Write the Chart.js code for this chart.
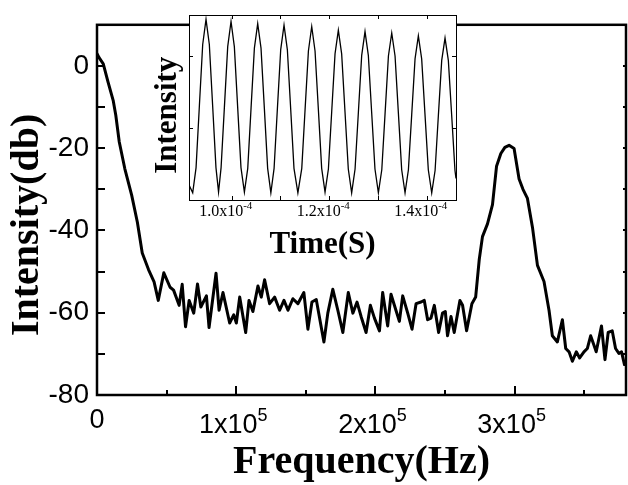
<!DOCTYPE html>
<html><head><meta charset="utf-8">
<script src="https://cdn.jsdelivr.net/npm/chart.js@4/dist/chart.umd.min.js"></script>
<style>
html,body{margin:0;padding:0;background:#fff;}
#wrap{position:relative;width:628px;height:485px;overflow:hidden;}
canvas{position:absolute;left:0;top:0;}
</style></head><body>
<div id="wrap"><canvas id="main" width="628" height="485"></canvas><canvas id="inset" width="628" height="485"></canvas></div>
<script>
// ---- main spectrum ----
const freqKHz = [0, 1.5, 4.5, 8, 11.7, 13.5, 16, 20, 24.9, 29,
  32.5, 37, 41, 44, 48, 52.5, 55, 59, 61.2, 63.6,
  66.2, 69.5, 72.2, 74.6, 78.6, 80.5, 85.5, 87.7, 90.5, 95.3,
  98.2, 100.1, 102.5, 106.8, 109.2, 112, 115.6, 118, 120.4, 124,
  127.6, 131.2, 134.3, 137.2, 140.7, 144.3, 148.6, 151.5, 154.4, 157.5,
  163, 165.8, 169.4, 173, 176.6, 180.5, 183.8, 186.8, 189.7, 193.3,
  196.4, 199.3, 202.9, 205.2, 208.8, 211.2, 212.9, 217.2, 219.6, 223.2,
  226.3, 229.2, 232.8, 235.1, 237.5, 239.9, 242.3, 245.4, 248.2, 250.2,
  251.8, 254.3, 256.6, 260.7, 262.6, 265.5, 269.3, 272, 274.6, 276.9,
  280.5, 284.1, 287, 290.1, 293, 296, 299.6, 303.2, 306, 309.2,
  312.8, 316.4, 321.1, 324.7, 327.1, 330.7, 334.3, 336.7, 339.1, 341.5,
  344.3, 346.7, 349.8, 352.2, 354.6, 357, 358.6, 362.4, 364.9, 367.2,
  370.1, 372.5, 374.9, 376.8, 378.9];
const intensityDb = [3, 2, 0.5, -4, -8.5, -12, -18.5, -25, -31.4, -38,
  -45.5, -49.5, -52.5, -57, -50.3, -53.8, -54.5, -58.2, -53.1, -63.4,
  -57, -60.1, -53, -58.6, -55.9, -63.6, -50.4, -59.4, -55.1, -62.5,
  -60.5, -62.5, -56.2, -64.8, -57, -59.7, -53.5, -56.2, -52, -57.8,
  -56.2, -59.4, -57, -59.4, -56.6, -57.8, -55.1, -64, -57.4, -56.8,
  -67.1, -60.1, -54.3, -59.4, -64.8, -55.1, -60.1, -57.4, -60.9, -64.8,
  -58.2, -61.3, -64.4, -55.1, -63.2, -55.5, -57.4, -62.1, -55.9, -60.1,
  -64, -57.8, -57.4, -57, -61.7, -61.3, -58.2, -64.8, -60.1, -59.7,
  -65.6, -60.9, -64.8, -57, -58.2, -64.4, -57.8, -56.2, -47, -41.5,
  -38.4, -33.7, -24.4, -21.3, -19.8, -19.3, -20.1, -27.5, -30, -32.2,
  -39.2, -48.5, -52.4, -59.4, -65.6, -67.1, -61.7, -68.7, -69.5, -71.8,
  -69.5, -71, -69.5, -68.7, -65.6, -67.9, -69.5, -63.2, -71.4, -64.8,
  -64.4, -68.7, -69.9, -69.5, -72.6];

const mainYLabels = [0, -20, -40, -60, -80];
const mainYTickMarks = [10, 0, -10, -20, -30, -40, -50, -60, -70, -80];
const mainXLabelValues = [0, 100000, 200000, 300000];
const mainXLabelText = ['0', '1x10', '2x10', '3x10'];
const mainXLabelExp = ['', '5', '5', '5'];
const mainXMajorTicks = [100000, 200000, 300000];
const mainXMinorTicks = [50000, 150000, 250000, 350000];

// ---- inset time trace (time in microseconds) ----
const insetTimeUs = [91.3, 92.0, 92.69, 93.37, 94.05, 94.73, 95.41, 96.09, 96.77,
  97.3, 97.82, 98.5, 99.18, 99.86, 100.54, 101.22, 101.9,
  102.6, 103.29, 103.97, 104.65, 105.33, 106.01, 106.69, 107.37,
  108.03, 108.69, 109.37, 110.05, 110.73, 111.41, 112.09, 112.77,
  113.57, 114.37, 115.05, 115.73, 116.41, 117.09, 117.77, 118.45,
  119.14, 119.83, 120.51, 121.19, 121.87, 122.55, 123.23, 123.91,
  124.6, 125.3, 125.98, 126.66, 127.34, 128.02, 128.7, 129.38,
  130.08, 130.78, 131.46, 132.14, 132.82, 133.5, 134.18, 134.86,
  135.55, 136.24, 136.92, 137.6, 138.28, 138.96, 139.64, 140.32,
  141.02, 141.71, 142.39, 143.07, 143.75, 144.43, 145.11, 145.79, 146.0];
const insetIntensity = [0.2, 0.1, 0.45, 1.31, 2.16, 2.51, 2.16, 1.31, 0.45,
  0.11, 0.45, 1.29, 2.13, 2.48, 2.13, 1.29, 0.45,
  0.11, 0.44, 1.28, 2.11, 2.45, 2.11, 1.28, 0.44,
  0.1, 0.44, 1.27, 2.09, 2.43, 2.09, 1.27, 0.44,
  0.1, 0.44, 1.26, 2.07, 2.41, 2.07, 1.26, 0.44,
  0.11, 0.43, 1.23, 2.03, 2.36, 2.03, 1.23, 0.43,
  0.1, 0.43, 1.22, 2.01, 2.34, 2.01, 1.22, 0.43,
  0.1, 0.42, 1.21, 2.0, 2.32, 2.0, 1.21, 0.42,
  0.1, 0.42, 1.19, 1.96, 2.28, 1.96, 1.19, 0.42,
  0.1, 0.41, 1.18, 1.94, 2.25, 1.94, 1.18, 0.41, 0.3];
const insetXTickMarks = [100, 110, 120, 130, 140];
const insetXLabelValues = [100, 120, 140];
const insetXLabelText = ['1.0x10', '1.2x10', '1.4x10'];
const insetXLabelExp = ['-4', '-4', '-4'];
const insetYTickMarks = [1, 2];

const mainDecor = {
  id: 'mainDecor',
  afterDraw(chart) {
    const {ctx, chartArea: a, scales: {x, y}} = chart;
    ctx.save();
    ctx.strokeStyle = '#000';
    ctx.lineWidth = 2.5;
    ctx.strokeRect(a.left, a.top, a.right - a.left, a.bottom - a.top);
    ctx.lineWidth = 2;
    ctx.beginPath();
    mainYTickMarks.forEach(v => {
      const py = Math.round(y.getPixelForValue(v));
      ctx.moveTo(a.left, py); ctx.lineTo(a.left + 8, py);
      ctx.moveTo(a.right, py); ctx.lineTo(a.right - 3, py);
    });
    mainXMajorTicks.forEach(v => {
      const px = Math.round(x.getPixelForValue(v));
      ctx.moveTo(px, a.bottom); ctx.lineTo(px, a.bottom - 9);
    });
    mainXMinorTicks.forEach(v => {
      const px = Math.round(x.getPixelForValue(v));
      ctx.moveTo(px, a.bottom); ctx.lineTo(px, a.bottom - 5);
    });
    ctx.stroke();
    ctx.fillStyle = '#000';
    ctx.textBaseline = 'alphabetic';
    ctx.textAlign = 'left';
    const baseFont = '27px "Liberation Sans", Arial, sans-serif';
    const supFont = '18px "Liberation Sans", Arial, sans-serif';
    mainXLabelValues.forEach((v, i) => {
      const px = x.getPixelForValue(v);
      ctx.font = baseFont;
      const w1 = ctx.measureText(mainXLabelText[i]).width;
      ctx.font = supFont;
      const w2 = mainXLabelExp[i] ? ctx.measureText(mainXLabelExp[i]).width : 0;
      const sx = px - (w1 + w2) / 2 - (w2 ? 3 : 0);
      const base = w2 ? 433 : 428;
      ctx.font = baseFont;
      ctx.fillText(mainXLabelText[i], sx, base);
      if (w2) { ctx.font = supFont; ctx.fillText(mainXLabelExp[i], sx + w1, base - 12); }
    });
    ctx.restore();
  }
};

new Chart(document.getElementById('main'), {
  type: 'line',
  data: { datasets: [{
    data: freqKHz.map((f, i) => ({x: f * 1000, y: intensityDb[i]})),
    borderColor: '#000', borderWidth: 3, pointRadius: 0, tension: 0,
    borderJoinStyle: 'round', borderCapStyle: 'round', fill: false
  }]},
  options: {
    responsive: false, animation: false, devicePixelRatio: 1,
    layout: {padding: {left: 0, right: 2, top: 10, bottom: 0}},
    plugins: {legend: {display: false}, tooltip: {enabled: false}},
    scales: {
      x: {
        type: 'linear', min: 0, max: 380000,
        ticks: {display: false},
        grid: {display: false, drawTicks: false}, border: {display: false},
        title: {display: true, text: 'Frequency(Hz)', color: '#000',
          font: {family: '"Liberation Serif", "Times New Roman", serif', size: 40, weight: 'bold', lineHeight: 1.1},
          padding: {top: 0, bottom: 0}},
        afterFit(s) { s.height = 90; }
      },
      y: {
        type: 'linear', min: -80, max: 10,
        ticks: {stepSize: 10, autoSkip: false, padding: 8, color: '#000',
          font: {family: '"Liberation Sans", Arial, sans-serif', size: 28},
          callback: v => mainYLabels.includes(v) ? String(v) : ''},
        grid: {display: false, drawTicks: false}, border: {display: false},
        title: {display: true, text: 'Intensity(db)   ', color: '#000',
          font: {family: '"Liberation Serif", "Times New Roman", serif', size: 40, weight: 'bold', lineHeight: 1.2},
          padding: {top: 4, bottom: 0}},
        afterFit(s) { s.width = 97; }
      }
    }
  },
  plugins: [mainDecor]
});

const insetDecor = {
  id: 'insetDecor',
  beforeDatasetsDraw(chart) {
    const {ctx, chartArea: a} = chart;
    ctx.save(); ctx.fillStyle = '#fff';
    ctx.fillRect(a.left, a.top, a.right - a.left, a.bottom - a.top);
    ctx.restore();
  },
  afterDraw(chart) {
    const {ctx, chartArea: a, scales: {x, y}} = chart;
    ctx.save();
    ctx.strokeStyle = '#000';
    ctx.lineWidth = 1;
    ctx.strokeRect(a.left + 0.5, a.top + 0.5, a.right - a.left, a.bottom - a.top);
    ctx.beginPath();
    insetXTickMarks.forEach(v => {
      const px = Math.round(x.getPixelForValue(v)) + 0.5;
      ctx.moveTo(px, a.bottom); ctx.lineTo(px, a.bottom - 4);
      ctx.moveTo(px, a.top); ctx.lineTo(px, a.top + 4);
    });
    insetYTickMarks.forEach(v => {
      const py = Math.round(y.getPixelForValue(v)) + 0.5;
      ctx.moveTo(a.left, py); ctx.lineTo(a.left + 4, py);
      ctx.moveTo(a.right, py); ctx.lineTo(a.right - 4, py);
    });
    ctx.stroke();
    ctx.fillStyle = '#000';
    ctx.textBaseline = 'alphabetic';
    ctx.textAlign = 'left';
    const baseFont = '16px "Liberation Serif", "Times New Roman", serif';
    const supFont = '11px "Liberation Serif", "Times New Roman", serif';
    insetXLabelValues.forEach((v, i) => {
      const px = x.getPixelForValue(v);
      ctx.font = baseFont;
      const w1 = ctx.measureText(insetXLabelText[i]).width;
      ctx.font = supFont;
      const w2 = ctx.measureText(insetXLabelExp[i]).width;
      const sx = px - (w1 + w2) / 2 - 6;
      ctx.font = baseFont; ctx.fillText(insetXLabelText[i], sx, 216);
      ctx.font = supFont; ctx.fillText(insetXLabelExp[i], sx + w1, 209);
    });
    ctx.restore();
  }
};

new Chart(document.getElementById('inset'), {
  type: 'line',
  data: { datasets: [{
    data: insetTimeUs.map((t, i) => ({x: t, y: insetIntensity[i]})),
    borderColor: '#000', borderWidth: 1.3, pointRadius: 0, tension: 0, fill: false
  }]},
  options: {
    responsive: false, animation: false, devicePixelRatio: 1,
    layout: {padding: {left: 149, right: 172, top: 15, bottom: 215}},
    plugins: {legend: {display: false}, tooltip: {enabled: false}},
    scales: {
      x: {
        type: 'linear', min: 91.24, max: 146.0,
        ticks: {display: false},
        grid: {display: false, drawTicks: false}, border: {display: false},
        title: {display: true, text: 'Time(S)', color: '#000',
          font: {family: '"Liberation Serif", "Times New Roman", serif', size: 31, weight: 'bold', lineHeight: 1.2},
          padding: {top: 0, bottom: 6}},
        afterFit(s) { s.height = 70; }
      },
      y: {
        type: 'linear', min: 0, max: 2.57,
        ticks: {display: false},
        grid: {display: false, drawTicks: false}, border: {display: false},
        title: {display: true, text: 'Intensity  ', color: '#000',
          font: {family: '"Liberation Serif", "Times New Roman", serif', size: 31, weight: 'bold', lineHeight: 1.2},
          padding: {top: 0, bottom: 0}},
        afterFit(s) { s.width = 40; }
      }
    }
  },
  plugins: [insetDecor]
});
</script>
</body></html>
